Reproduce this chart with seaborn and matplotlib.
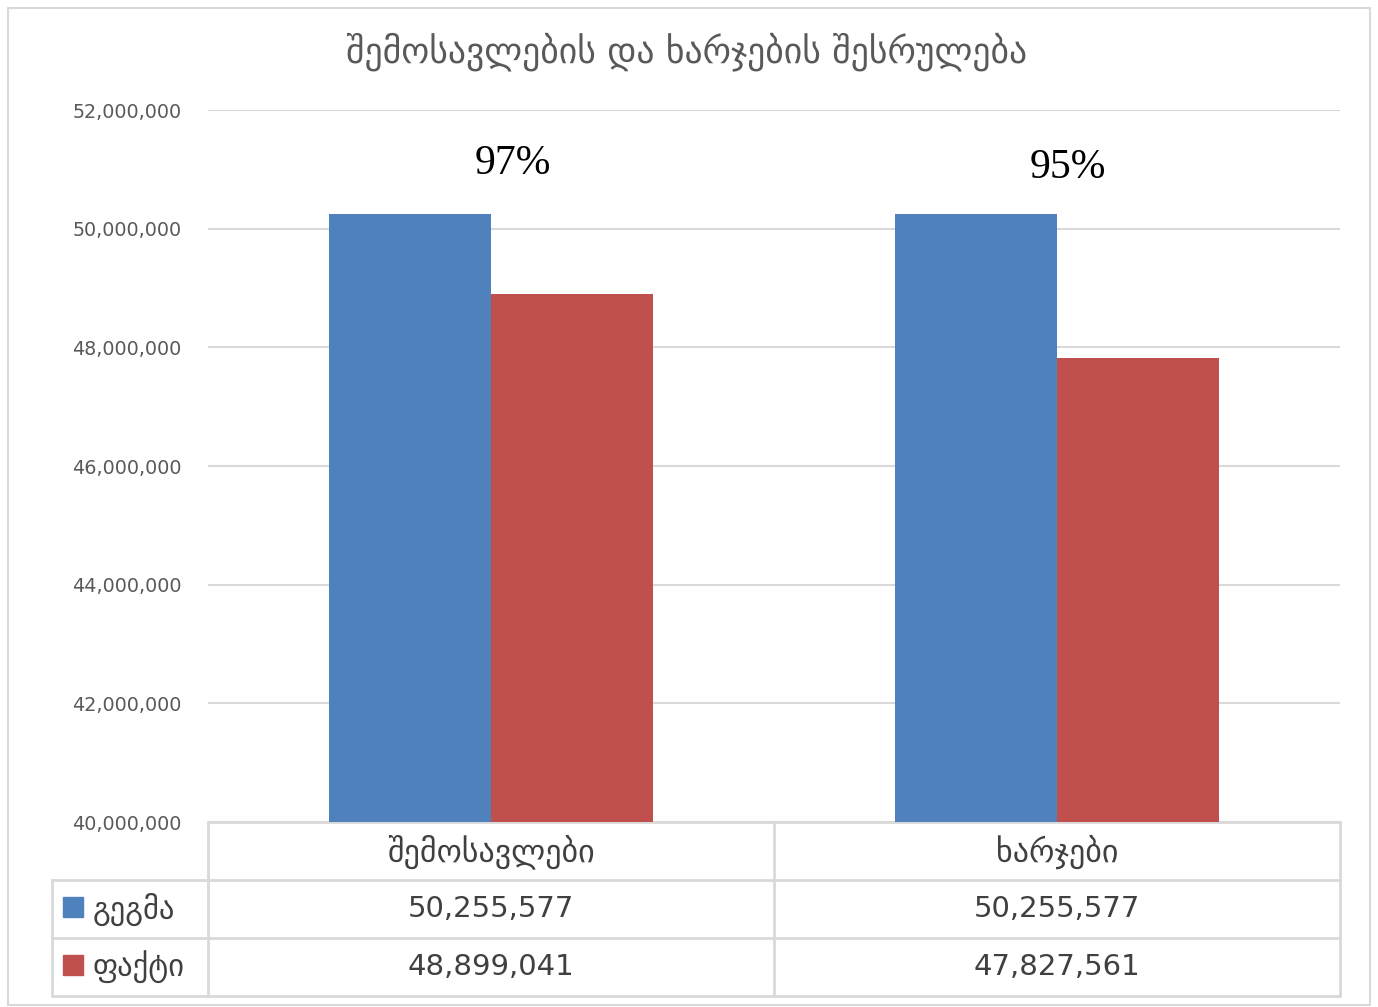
import numpy as np
import pandas as pd
import matplotlib
matplotlib.use("Agg")
import matplotlib.pyplot as plt
import matplotlib.transforms as mtransforms
from matplotlib.lines import Line2D
from matplotlib.patches import Rectangle
import seaborn as sns

# data
categories = ["შემოსავლები", "ხარჯები"]
series = ["გეგმა", "ფაქტი"]
plan = [50255577, 50255577]
fact = [48899041, 47827561]
colors = ["#4F81BD", "#C0504D"]
title = "შემოსავლების და ხარჯების შესრულება"

df = pd.DataFrame({
    "category": categories * 2,
    "series": [series[0]] * 2 + [series[1]] * 2,
    "value": plan + fact,
})

sns.set_style("white")
plt.rcParams["font.family"] = ["DejaVu Sans"]

W, H = 1378, 1007
fig = plt.figure(figsize=(W / 100, H / 100), dpi=100)


def fx(x):
    return x / W


def fy(y):
    return 1 - y / H


ax = fig.add_axes([fx(208), fy(822), fx(1340) - fx(208), fy(110) - fy(822)])

sns.barplot(data=df, x="category", y="value", hue="series", palette=colors,
            width=0.572, gap=0, saturation=1, ax=ax, legend=False, zorder=3,
            linewidth=0)

ax.set_ylim(40000000, 52000000)
ax.set_xlim(-0.5, 1.5)
ax.set_yticks(np.arange(40000000, 52000001, 2000000))
ax.set_yticklabels([f"{v:,.0f}" for v in np.arange(40000000, 52000001, 2000000)],
                   fontsize=13.8, color="#595959")
ax.tick_params(axis="y", length=0, pad=19)
ax.set_xticks([])
ax.set_xlabel("")
ax.set_ylabel("")
ax.grid(axis="y", color="#d9d9d9", linewidth=1.5, zorder=0)
for s in ["top", "left", "right"]:
    ax.spines[s].set_visible(False)
ax.spines["bottom"].set_color("#d9d9d9")
ax.spines["bottom"].set_linewidth(2)

# percentage labels (placed a bit right of the group centre, like the original)
pct_dx = [0.038, 0.019]
for i, (p, f) in enumerate(zip(plan, fact)):
    pct = round(f / p * 100)
    ax.text(i + pct_dx[i], 51100000 - i * 80000, f"{pct}%", ha="center", va="center",
            fontsize=30, family="Liberation Serif", color="black")

fig.text(0.498, fy(52), title, ha="center", va="center", fontsize=25.7, color="#595959")

# data table under the axes
tr = mtransforms.blended_transform_factory(ax.transData, fig.transFigure)
grid_c = "#d9d9d9"
for yy in [880, 938, 996]:
    fig.add_artist(Line2D([fx(52), fx(1340)], [fy(yy), fy(yy)], color=grid_c, lw=2,
                          transform=fig.transFigure))
fig.add_artist(Line2D([fx(52), fx(52)], [fy(880), fy(996)], color=grid_c, lw=2,
                      transform=fig.transFigure))
for xx in [-0.5, 0.5, 1.5]:
    fig.add_artist(Line2D([xx, xx], [fy(823), fy(996)], color=grid_c, lw=2, transform=tr))

for i, c in enumerate(categories):
    fig.text(i, fy(852), c, transform=tr, ha="center", va="center", fontsize=23,
             color="#404040")
    fig.text(i, fy(909), f"{plan[i]:,}", transform=tr, ha="center", va="center",
             fontsize=21, color="#404040")
    fig.text(i, fy(967), f"{fact[i]:,}", transform=tr, ha="center", va="center",
             fontsize=21, color="#404040")

for j, (name, yc) in enumerate(zip(series, [907, 965])):
    fig.add_artist(Rectangle((fx(63), fy(yc + 10)), fx(20), fy(yc - 10) - fy(yc + 10),
                             color=colors[j], transform=fig.transFigure))
    fig.text(fx(93), fy(yc + 2), name, ha="left", va="center", fontsize=22, color="#404040")

# outer chart border
fig.add_artist(Rectangle((fx(8), fy(1005)), fx(1370) - fx(8), fy(8) - fy(1005),
                         fill=False, edgecolor=grid_c, lw=1.5, transform=fig.transFigure))

fig.savefig("out.png", dpi=100)
